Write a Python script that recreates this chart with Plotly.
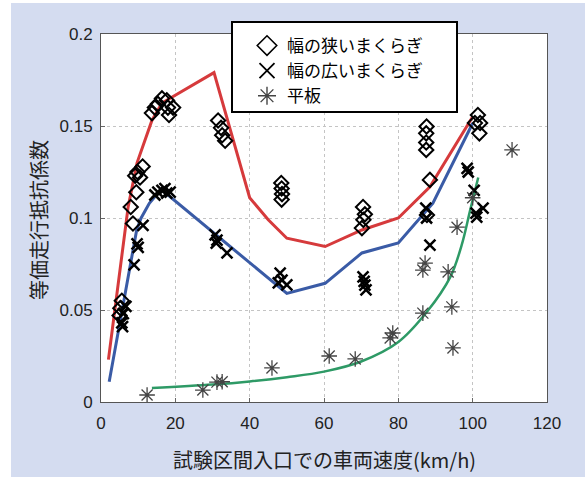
import plotly.graph_objects as go

# ---- data ----
narrow_x = [5.6, 5.2, 5.0, 8.0, 8.6, 9.5, 9.2, 10.5, 11.2, 9.8,
            13.7, 14.5, 15.3, 16.4, 17.7, 18.0, 19.4, 18.3,
            31.5, 32.3, 32.6, 33.4,
            48.5, 48.6, 48.7, 48.6,
            70.5, 71.0, 70.6, 70.2,
            87.6, 87.5, 87.5, 87.5, 88.5, 87.7,
            101.4, 102.0, 100.6, 101.8]
narrow_y = [0.055, 0.051, 0.047, 0.106, 0.097, 0.114, 0.123, 0.122, 0.128, 0.125,
            0.157, 0.160, 0.162, 0.165, 0.164, 0.160, 0.160, 0.156,
            0.153, 0.149, 0.145, 0.142,
            0.119, 0.116, 0.113, 0.110,
            0.106, 0.102, 0.099, 0.0945,
            0.1497, 0.146, 0.141, 0.137, 0.1207, 0.1016,
            0.156, 0.1516, 0.1516, 0.146]

wide_x = [6.7, 6.0, 5.6, 5.8, 8.9, 10.0, 9.7, 11.3,
          15.3, 17.2, 17.7, 16.4, 18.6, 14.5,
          30.7, 31.2, 31.0, 33.9,
          48.2, 48.7, 50.0, 47.7,
          70.5, 70.8, 71.0, 71.3,
          87.4, 87.6, 88.5,
          98.5, 98.8, 100.4, 100.9, 102.8, 101.1]
wide_y = [0.052, 0.048, 0.043, 0.041, 0.0745, 0.084, 0.086, 0.096,
          0.114, 0.116, 0.1135, 0.115, 0.114, 0.1125,
          0.0908, 0.088, 0.0864, 0.081,
          0.070, 0.0663, 0.0636, 0.0647,
          0.068, 0.0655, 0.0635, 0.061,
          0.1054, 0.100, 0.0853,
          0.127, 0.125, 0.115, 0.1027, 0.1054, 0.1005]

flat_x = [12.4, 27.4, 31.2, 32.6, 46.0, 61.4, 68.4, 78.5, 77.8,
          86.6, 94.4, 94.7, 87.2, 86.6, 93.4, 95.8, 110.6, 100.0]
flat_y = [0.0038, 0.0065, 0.0108, 0.011, 0.0185, 0.025, 0.0234, 0.0375, 0.0348,
          0.0483, 0.0517, 0.0294, 0.0755, 0.0717, 0.0707, 0.095, 0.137, 0.111]

red_x = [2.0, 7.3, 9.7, 13.7, 16.4, 30.4, 40.0, 45.0, 50.0, 60.3, 70.2, 80.0, 88.5, 100.0]
red_y = [0.023, 0.106, 0.130, 0.153, 0.1625, 0.179, 0.111, 0.099, 0.089, 0.0845, 0.0935, 0.100, 0.117, 0.155]

blue_x = [2.2, 9.6, 10.8, 13.0, 15.5, 16.5, 50.0, 60.3, 70.2, 80.0, 89.3, 100.0]
blue_y = [0.011, 0.0935, 0.100, 0.108, 0.114, 0.115, 0.059, 0.0645, 0.081, 0.0864, 0.108, 0.1515]

green_x = [13.7, 30.0, 40.0, 50.0, 60.0, 70.0, 80.0, 87.7, 94.0, 97.0, 99.3, 101.5]
green_y = [0.0076, 0.0095, 0.0112, 0.0135, 0.0165, 0.022, 0.0326, 0.049, 0.068, 0.085, 0.104, 0.122]

x_ticks = [0, 20, 40, 60, 80, 100, 120]
y_ticks = [0, 0.05, 0.1, 0.15, 0.2]
y_tick_text = ["0", "0.05", "0.1", "0.15", "0.2"]

legend_names = ["幅の狭いまくらぎ", "幅の広いまくらぎ", "平板"]

# ---- figure ----
W, H = 585, 477
L, R, T, B = 101, 547, 34, 402

def px(xp):
    return (xp - L) / (R - L)

def py(yp):
    return (B - yp) / (B - T)

fig = go.Figure()

fig.add_trace(go.Scatter(x=red_x, y=red_y, mode="lines", showlegend=False,
                         line=dict(color="#d63a3c", width=3), hoverinfo="skip"))
fig.add_trace(go.Scatter(x=blue_x, y=blue_y, mode="lines", showlegend=False,
                         line=dict(color="#3a5ba6", width=3), hoverinfo="skip"))
fig.add_trace(go.Scatter(x=green_x, y=green_y, mode="lines", showlegend=False,
                         line=dict(color="#2e9a66", width=2.5, shape="spline"), hoverinfo="skip"))

sym = ["diamond-open", "x-thin-open", "asterisk-open"]
cols = ["black", "black", "#444444"]
lw = [2, 2.5, 1.3]
dsz = [11, 11, 13]
series = [(narrow_x, narrow_y), (wide_x, wide_y), (flat_x, flat_y)]

for i, (sx, sy) in enumerate(series):
    fig.add_trace(go.Scatter(x=sx, y=sy, mode="markers", name=legend_names[i],
                             showlegend=False,
                             marker=dict(symbol=sym[i], size=dsz[i], color=cols[i],
                                         line=dict(color=cols[i], width=lw[i]))))
for i in range(3):
    # legend entries (larger symbols, as in the reference key)
    fig.add_trace(go.Scatter(x=[None], y=[None], mode="markers", name=legend_names[i],
                             marker=dict(symbol=sym[i], size=15, color=cols[i],
                                         line=dict(color=cols[i], width=[1.6, 1.8, 1.4][i]))))

tick_font = dict(family="Liberation Sans, Arial, sans-serif", size=17, color="#222")
jp_font = "Noto Sans CJK JP, sans-serif"

fig.update_layout(
    width=W, height=H,
    margin=dict(l=L, r=W - R, t=T, b=H - B, pad=0),
    paper_bgcolor="#d4dcf0",
    plot_bgcolor="white",
    showlegend=True,
    legend=dict(x=px(247), y=py(28), xanchor="left", yanchor="top",
                bgcolor="rgba(0,0,0,0)", borderwidth=0,
                font=dict(family=jp_font, size=17, color="black")),
    xaxis=dict(range=[0, 120], tickvals=x_ticks, ticks="inside", ticklen=4,
               tickcolor="#666", showgrid=True, gridcolor="#c4c4c4", griddash="dot",
               gridwidth=1, showline=True, linecolor="#555", linewidth=1, mirror=True,
               zeroline=False, tickfont=tick_font, ticklabelstandoff=6),
    yaxis=dict(range=[0, 0.2], tickvals=y_ticks, ticktext=y_tick_text, ticks="inside",
               ticklen=4, tickcolor="#666", showgrid=True, gridcolor="#c4c4c4",
               griddash="dot", gridwidth=1, showline=True, linecolor="#555",
               linewidth=1, mirror=True, zeroline=False, tickfont=tick_font,
               ticklabelstandoff=4),
    shapes=[
        dict(type="rect", xref="paper", yref="paper", x0=px(0), x1=px(11),
             y0=py(H + 5), y1=py(-5), fillcolor="white", line=dict(width=0), layer="below"),
        dict(type="rect", xref="paper", yref="paper", x0=px(0), x1=px(W + 5),
             y0=py(3), y1=py(-5), fillcolor="white", line=dict(width=0), layer="below"),
        dict(type="rect", xref="paper", yref="paper", x0=px(232), x1=px(457),
             y0=py(112), y1=py(22), fillcolor="white",
             line=dict(color="black", width=2), layer="above"),
    ],
    annotations=[
        dict(text="試験区間入口での車両速度(km/h)", xref="paper", yref="paper",
             x=px(324), y=py(459), xanchor="center", yanchor="middle", showarrow=False,
             font=dict(family=jp_font, size=20, color="#222")),
        dict(text="等価走行抵抗係数", xref="paper", yref="paper",
             x=px(38), y=py(220), xanchor="center", yanchor="middle", showarrow=False,
             textangle=-90, font=dict(family=jp_font, size=20, color="#222")),
    ],
)

fig.write_html("out.html", config={"displayModeBar": False},
               post_script="document.body.style.margin='0';document.body.style.padding='0';")
